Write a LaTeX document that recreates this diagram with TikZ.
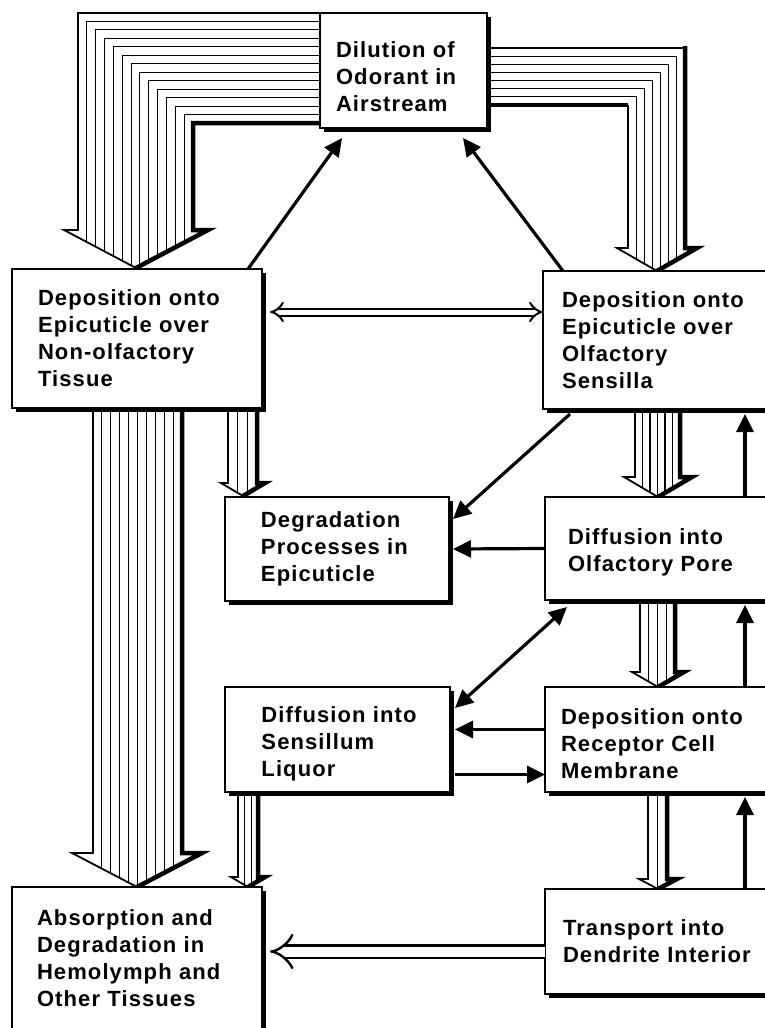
\documentclass[tikz,border=0pt]{standalone}
\usepackage{fontspec}
\setmainfont{Liberation Sans}[LetterSpace=5, WordSpace=1.5]
\usetikzlibrary{arrows.meta, positioning, calc, shadows, backgrounds}

% striped fat arrow pointing down: left, right, top, head y, head left, head right, tip y, stripes
\newcommand{\fatdown}[8]{%
  \begin{scope}
    \clip (#1,#3) -- (#1,#4) -- (#5,#4) -- ({(#5+#6)/2},#7) -- (#6,#4) -- (#2,#4) -- (#2,#3) -- cycle;
    \fill[white] (#5,#3) rectangle (#6,#7);
    \foreach \k in {1,...,#8} \draw[stripe] ({#1+(#2-#1)*\k/(#8+1)},#3) -- ++(0,{#7-#3});
  \end{scope}
  \draw[edge] (#1,#3) -- (#1,#4) -- (#5,#4) -- ({(#5+#6)/2},#7);
  \draw[shade] (#2,#3) -- (#2,#4) -- (#6,#4) -- ({(#5+#6)/2},#7);
}

\begin{document}
\begin{tikzpicture}[x=1bp, y=-1bp,
    box/.style={draw, line width=1.8bp, fill=white, anchor=north west, align=left, inner xsep=0pt, outer sep=0pt,
      font=\fontsize{22bp}{27bp}\selectfont\bfseries,
      drop shadow={shadow xshift=4bp, shadow yshift=-4bp, fill=black, opacity=1}},
    textdown/.style={execute at begin node={\rule{0pt}{#1}}},
    flow/.style={draw, line width=3.2bp, -{Triangle[length=18bp, width=17bp]}},
    twoway/.style={flow, {Triangle[length=18bp, width=17bp]}-{Triangle[length=18bp, width=17bp]}},
    hollow/.style={draw, double, line width=2bp, double distance=5bp},
    stripe/.style={line width=1.1bp},
    edge/.style={line width=1.8bp},
    shade/.style={line width=4.5bp}]

    \useasboundingbox (0,0) rectangle (765,1028);

    \node [box, textdown=28bp, minimum width=167bp, minimum height=115bp, text width=135bp] (dil) at (320,13)
      {Dilution~of\\Odorant~in\\Airstream};
    \node [box, minimum width=250bp, minimum height=139bp, text width=198bp] (nonolf) at (12,269)
      {Deposition onto\\Epicuticle over\\Non-olfactory\\Tissue};
    \node [box, minimum width=237bp, minimum height=138bp, text width=199bp] (olf) at (543,271)
      {Deposition onto\\Epicuticle over\\Olfactory\\Sensilla};
    \node [box, textdown=24bp, minimum width=235bp, minimum height=103bp, text width=189bp] (pore) at (545,497)
      {Diffusion into\\Olfactory Pore};
    \node [box, minimum width=224bp, minimum height=104bp, text width=152bp,
      left=96bp of pore.north west, anchor=north east] (degr)
      {Degradation\\Processes~in\\Epicuticle};
    \node [box, textdown=25bp, minimum width=235bp, minimum height=105bp, text width=203bp,
      below=87bp of pore.south west, anchor=north west] (rec)
      {Deposition onto\\Receptor Cell\\Membrane};
    \node [box, textdown=25bp, minimum width=225bp, minimum height=105bp, text width=152bp,
      left=95bp of rec.north west, anchor=north east] (liq)
      {Diffusion~into\\Sensillum\\Liquor};
    \node [box, minimum width=235bp, minimum height=105bp, text width=199bp,
      below=97bp of rec.south west, anchor=north west] (trans)
      {Transport into\\Dendrite Interior};
    \node [box, minimum width=250bp, minimum height=143bp, text width=200bp] (abs) at (12,887)
      {Absorption and\\Degradation~in\\Hemolymph and\\Other Tissues};

    \begin{scope}[on background layer]
      % airstream to non-olfactory tissue
      \begin{scope}
        \clip (330,13) -- (78,13) -- (78,230) -- (64,230) -- (136,268) -- (208,230) -- (193,230) -- (193,123) -- (330,123) -- cycle;
        \foreach \k in {1,...,12}
          \draw[stripe] (330,{13+110*\k/13}) -| ({78+115*\k/13},270);
      \end{scope}
      \draw[edge] (330,13) -| (78,230) -- (64,230) -- (136,268);
      \draw[shade] (330,123) -| (193,230) -- (208,230) -- (136,268);
      % airstream to sensilla
      \begin{scope}
        \clip (480,48) -- (685,48) -- (685,248) -- (697,248) -- (657,271) -- (617,248) -- (628,248) -- (628,105) -- (480,105) -- cycle;
        \foreach \k in {1,...,6}
          \draw[stripe] (480,{48+57*\k/7}) -| ({685-57*\k/7},272);
      \end{scope}
      \draw[edge] (480,48) -- (685,48);
      \draw[edge] (628,105) -- (628,248) -- (617,248) -- (657,271);
      \draw[shade] (480,105) -- (628,105);
      \draw[shade] (685,46) -- (685,248) -- (697,248) -- (657,271);
      % straight fat arrows
      \fatdown{93}{182}{405}{853}{72}{202}{887}{9}
      \fatdown{228}{257}{405}{483}{221}{265}{496}{2}
      \fatdown{635}{680}{405}{477}{624}{692}{497}{5}
      \fatdown{640}{675}{595}{672}{632}{684}{687}{3}
      \fatdown{238}{258}{785}{877}{231}{265}{887}{2}
      \fatdown{648}{667}{785}{879}{639}{677}{889}{1}
    \end{scope}

    \draw [flow] ([shift={(-14,0)}]nonolf.north east) -- ([shift={(22,10)}]dil.south west);
    \draw [flow] ([shift={(20,0)}]olf.north west) -- ([shift={(-24,10)}]dil.south east);
    \draw [flow] ([shift={(27,5)}]olf.south west) -- ([shift={(4,22)}]degr.north east);
    \draw [flow] (pore.west) -- ([shift={(4,0)}]degr.east);
    \draw [twoway] ([shift={(22,7)}]pore.south west) -- ([shift={(5,21)}]liq.north east);
    \draw [flow] ([shift={(0,-10)}]rec.west) -- ([shift={(5,-10)}]liq.east);
    \draw [flow] ([shift={(5,35)}]liq.east) -- ([shift={(0,35)}]rec.west);
    \draw [flow] ([shift={(200,0)}]pore.north west) -- ([shift={(202,5)}]olf.south west);
    \draw [flow] ([shift={(200,0)}]rec.north west) -- ([shift={(200,5)}]pore.south west);
    \draw [flow] ([shift={(200,0)}]trans.north west) -- ([shift={(200,5)}]rec.south west);
    \draw [hollow, {Implies[scale=2.8]}-{Implies[scale=2.8]}] ([shift={(8,43)}]nonolf.north east) coordinate (d)
      -- (d -| olf.west);
    \draw [hollow, line width=2.4bp, double distance=10bp, -{Implies[scale=1.8]}] ([shift={(0,10)}]trans.west) coordinate (t)
      -- ([xshift=8bp]t -| abs.east);
\end{tikzpicture}
\end{document}
